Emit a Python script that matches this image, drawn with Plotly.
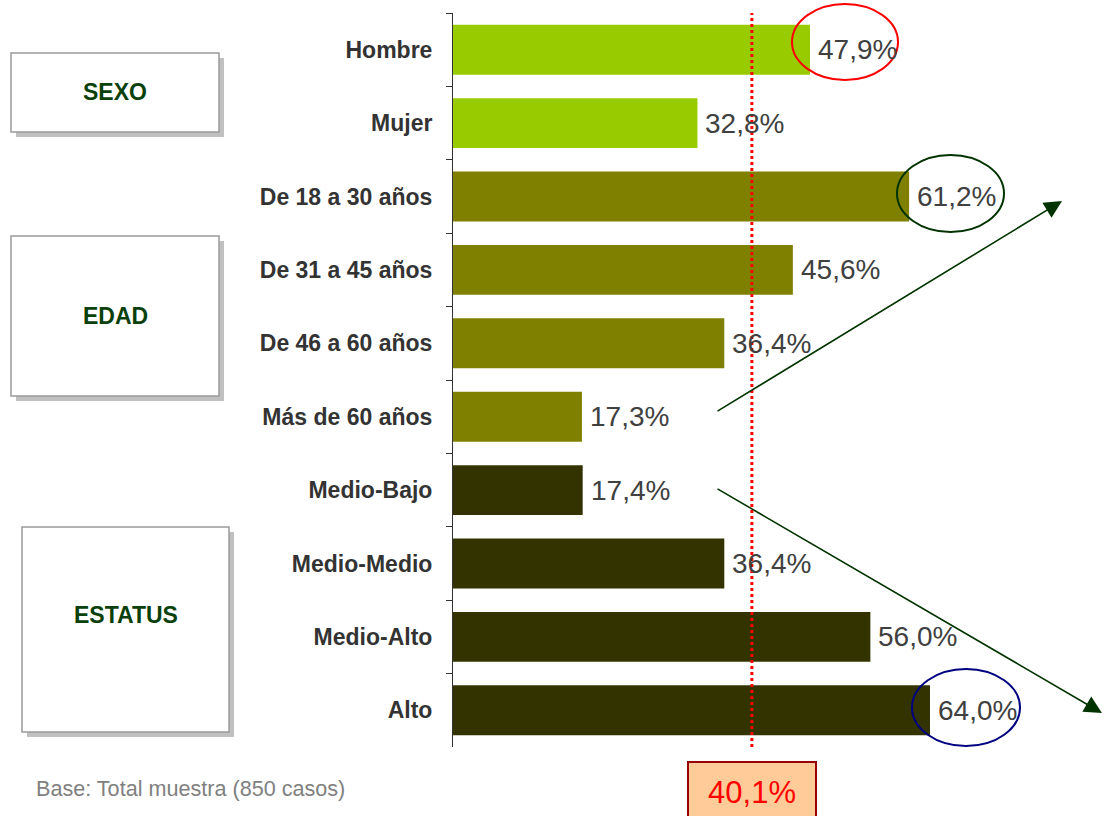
import plotly.graph_objects as go

categories = ["Hombre", "Mujer", "De 18 a 30 años", "De 31 a 45 años", "De 46 a 60 años",
              "Más de 60 años", "Medio-Bajo", "Medio-Medio", "Medio-Alto", "Alto"]
values = [47.9, 32.8, 61.2, 45.6, 36.4, 17.3, 17.4, 36.4, 56.0, 64.0]
value_labels = ["47,9%", "32,8%", "61,2%", "45,6%", "36,4%", "17,3%", "17,4%", "36,4%", "56,0%", "64,0%"]
groups = ["SEXO", "SEXO", "EDAD", "EDAD", "EDAD", "EDAD", "ESTATUS", "ESTATUS", "ESTATUS", "ESTATUS"]
group_colors = {"SEXO": "#99CC00", "EDAD": "#808000", "ESTATUS": "#333300"}
average = 40.1
average_label = "40,1%"
footnote = "Base: Total muestra (850 casos)"

FONT = "Liberation Sans, Arial, sans-serif"
W_FIG, H_FIG = 1104, 816
L, R, T, B = 453, 4, 13, 69
PW = W_FIG - L - R
PH = H_FIG - T - B


def px(x):
    return (x - L) / PW


def py(y):
    return 1 - (y - T) / PH


fig = go.Figure()
fig.add_trace(go.Bar(
    y=categories, x=values, orientation="h",
    marker=dict(color=[group_colors[g] for g in groups], line=dict(width=0)),
    hoverinfo="skip",
))

annotations = []
for c, v, lab in zip(categories, values, value_labels):
    annotations.append(dict(xref="x", yref="y", x=v, y=c, xanchor="left", yanchor="middle",
                            xshift=6, text=lab, showarrow=False,
                            font=dict(family=FONT, size=28, color="#404040")))

shapes = []
# group boxes (shadow + box)
boxes = [("SEXO", 11, 53, 219, 132, 92), ("EDAD", 11, 236, 219, 396, 316), ("ESTATUS", 22, 527, 229, 732, 615)]
for name, x0, y0, x1, y1, ty in boxes:
    shapes.append(dict(type="rect", xref="paper", yref="paper", x0=px(x0 + 5), x1=px(x1 + 5),
                       y0=py(y1 + 5), y1=py(y0 + 5), fillcolor="#C0C0C0", line=dict(width=0), layer="above"))
    shapes.append(dict(type="rect", xref="paper", yref="paper", x0=px(x0), x1=px(x1),
                       y0=py(y1), y1=py(y0), fillcolor="white", line=dict(color="#9A9A9A", width=1.5), layer="above"))
    annotations.append(dict(xref="paper", yref="paper", x=px((x0 + x1) / 2), y=py(ty),
                            xanchor="center", yanchor="middle",
                            text="<b>%s</b>" % name, showarrow=False,
                            font=dict(family=FONT, size=23, color="#0A400A")))

# average dotted line
shapes.append(dict(type="line", xref="x", yref="paper", x0=average, x1=average, y0=0, y1=1,
                   line=dict(color="#FF0000", width=3, dash="dot")))

# ellipses
shapes.append(dict(type="circle", xref="paper", yref="paper", x0=px(792), x1=px(898), y0=py(80), y1=py(4),
                   line=dict(color="#FF0000", width=2)))
shapes.append(dict(type="circle", xref="paper", yref="paper", x0=px(897), x1=px(1004), y0=py(232), y1=py(155),
                   line=dict(color="#003300", width=2)))
shapes.append(dict(type="circle", xref="paper", yref="paper", x0=px(912), x1=px(1020), y0=py(746), y1=py(669),
                   line=dict(color="#000080", width=2)))

# arrows
annotations.append(dict(xref="paper", yref="paper", x=px(1062), y=py(201), ax=716 - 1062, ay=412 - 201,
                        axref="pixel", ayref="pixel", showarrow=True, arrowhead=2, arrowsize=2.2,
                        arrowwidth=1.6, arrowcolor="#003300", text=""))
annotations.append(dict(xref="paper", yref="paper", x=px(1102), y=py(713), ax=716 - 1102, ay=488 - 713,
                        axref="pixel", ayref="pixel", showarrow=True, arrowhead=2, arrowsize=2.2,
                        arrowwidth=1.6, arrowcolor="#003300", text=""))

# average label box
annotations.append(dict(xref="x", yref="paper", x=average, y=py(761), xanchor="center", yanchor="top",
                        text=average_label, showarrow=False, width=126, height=58, borderpad=0,
                        bgcolor="#FFCC99", bordercolor="#990000", borderwidth=2,
                        font=dict(family=FONT, size=31, color="#FF0000")))

# footnote
annotations.append(dict(xref="paper", yref="paper", x=px(34), y=py(788), xanchor="left", yanchor="middle",
                        text=footnote, showarrow=False,
                        font=dict(family=FONT, size=21.6, color="#808080")))

fig.update_layout(
    width=W_FIG, height=H_FIG,
    margin=dict(l=L, r=R, t=T, b=B, autoexpand=False),
    paper_bgcolor="white", plot_bgcolor="white",
    bargap=0.32,
    showlegend=False,
    shapes=shapes, annotations=annotations,
    xaxis=dict(range=[0, PW / 7.453], visible=False, fixedrange=True),
    yaxis=dict(type="category", autorange="reversed", showline=True, linecolor="#333333", linewidth=1,
               ticks="outside", tickson="boundaries", ticklen=6, tickcolor="#333333",
               ticklabelstandoff=15, showgrid=False, fixedrange=True,
               tickfont=dict(family=FONT, size=23, color="#333333"),
               tickprefix="<b>", ticksuffix="</b>"),
)

fig.write_html("out.html", config={"displayModeBar": False},
               post_script="document.body.style.margin='0';document.body.style.padding='0';")
